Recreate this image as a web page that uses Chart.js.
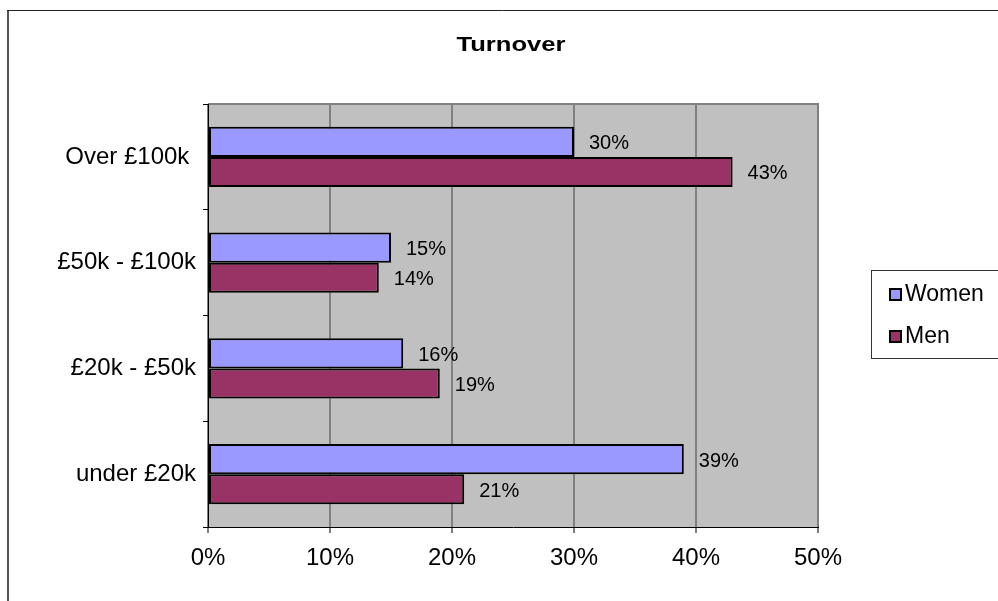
<!DOCTYPE html>
<html>
<head>
<meta charset="utf-8">
<script src="https://cdn.jsdelivr.net/npm/chart.js@4/dist/chart.umd.min.js"></script>
<style>
  html, body { margin: 0; padding: 0; background: #fff; }
  #wrap { width: 998px; height: 601px; position: relative; }
</style>
</head>
<body>
<div id="wrap"><canvas id="turnoverChart"></canvas></div>
<script>
// chart data
const categories = ["Over £100k ", "£50k - £100k", "£20k - £50k", "under £20k"]
const women = [30, 15, 16, 39]
const men = [43, 14, 19, 21]
const xTicks = [0, 10, 20, 30, 40, 50]

const FONT = "Arial, 'Liberation Sans', sans-serif"

// grey plot area + outer frame
const plotBackground = {
  id: "plotBackground",
  beforeDraw(chart) {
    const { ctx, chartArea: a } = chart
    ctx.save()
    // outer frame
    ctx.strokeStyle = "#555"
    ctx.lineWidth = 2
    ctx.beginPath()
    ctx.moveTo(8, 10)
    ctx.lineTo(8, 601)
    ctx.stroke()
    ctx.strokeStyle = "#222"
    ctx.lineWidth = 1
    ctx.beginPath()
    ctx.moveTo(7, 10.5)
    ctx.lineTo(998, 10.5)
    ctx.stroke()
    // plot area
    ctx.fillStyle = "#C0C0C0"
    ctx.fillRect(a.left, a.top, a.right - a.left, a.bottom - a.top)
    ctx.strokeStyle = "#808080"
    ctx.lineWidth = 2
    ctx.beginPath()
    ctx.moveTo(a.left, a.top)
    ctx.lineTo(a.right, a.top)
    ctx.lineTo(a.right, a.bottom)
    ctx.stroke()
    ctx.restore()
  },
}

// title (stretched like the original) + value labels + boxed legend
const extras = {
  id: "extras",
  afterDraw(chart) {
    const { ctx } = chart
    ctx.save()
    ctx.fillStyle = "#000"

    ctx.save()
    ctx.translate(511, 45)
    ctx.scale(1.22, 1)
    ctx.font = "bold 21px " + FONT
    ctx.textAlign = "center"
    ctx.textBaseline = "middle"
    ctx.fillText("Turnover", 0, 0)
    ctx.restore()

    ctx.font = "20px " + FONT
    ctx.textAlign = "left"
    ctx.textBaseline = "middle"
    chart.data.datasets.forEach((ds, i) => {
      chart.getDatasetMeta(i).data.forEach((bar, j) => {
        ctx.fillText(ds.data[j] + "%", bar.x + 15, bar.y + 2)
      })
    })

    // legend
    ctx.strokeStyle = "#333"
    ctx.lineWidth = 1
    ctx.strokeRect(871.5, 270.5, 140, 88)
    ctx.font = "23px " + FONT
    chart.data.datasets.forEach((ds, i) => {
      const y = 288 + i * 42
      ctx.fillStyle = ds.backgroundColor
      ctx.fillRect(889, y, 13, 13)
      ctx.strokeStyle = "#000"
      ctx.lineWidth = 2
      ctx.strokeRect(890, y + 1, 11, 11)
      ctx.fillStyle = "#000"
      ctx.fillText(ds.label, 905, y + 7)
    })
    ctx.restore()
  },
}

const chart = new Chart(document.getElementById("turnoverChart"), {
  type: "bar",
  data: {
    labels: categories,
    datasets: [
      {
        label: "Women",
        data: women,
        backgroundColor: "#9999FF",
        borderColor: "#000",
        borderWidth: 2,
        borderSkipped: false,
      },
      {
        label: "Men",
        data: men,
        backgroundColor: "#993366",
        borderColor: "#000",
        borderWidth: 2,
        borderSkipped: false,
      },
    ],
  },
  options: {
    indexAxis: "y",
    responsive: true,
    maintainAspectRatio: false,
    animation: false,
    datasets: {
      bar: { categoryPercentage: 0.57, barPercentage: 1 },
    },
    layout: { padding: { top: 104, right: 180, left: 0, bottom: 0 } },
    plugins: {
      legend: { display: false },
      title: { display: false },
      tooltip: { enabled: false },
    },
    scales: {
      x: {
        min: 0,
        max: 50,
        afterBuildTicks: (scale) => {
          scale.ticks = xTicks.map((v) => ({ value: v }))
        },
        afterFit: (scale) => {
          scale.height = 74
        },
        grid: {
          color: "#808080",
          lineWidth: 2,
          tickColor: "#000",
          tickWidth: 1,
          tickLength: 6,
        },
        border: { display: true, color: "#000", width: 1 },
        ticks: {
          color: "#000",
          font: { family: FONT, size: 24 },
          padding: 11,
          callback: (v) => v + "%",
        },
      },
      y: {
        afterFit: (scale) => {
          scale.width = 208
        },
        grid: {
          offset: true,
          drawOnChartArea: false,
          color: "#000",
          tickLength: 5,
        },
        border: { display: true, color: "#000", width: 1 },
        ticks: {
          color: "#000",
          font: { family: FONT, size: 24 },
          padding: 7,
        },
      },
    },
  },
  plugins: [plotBackground, extras],
})
</script>
</body>
</html>
